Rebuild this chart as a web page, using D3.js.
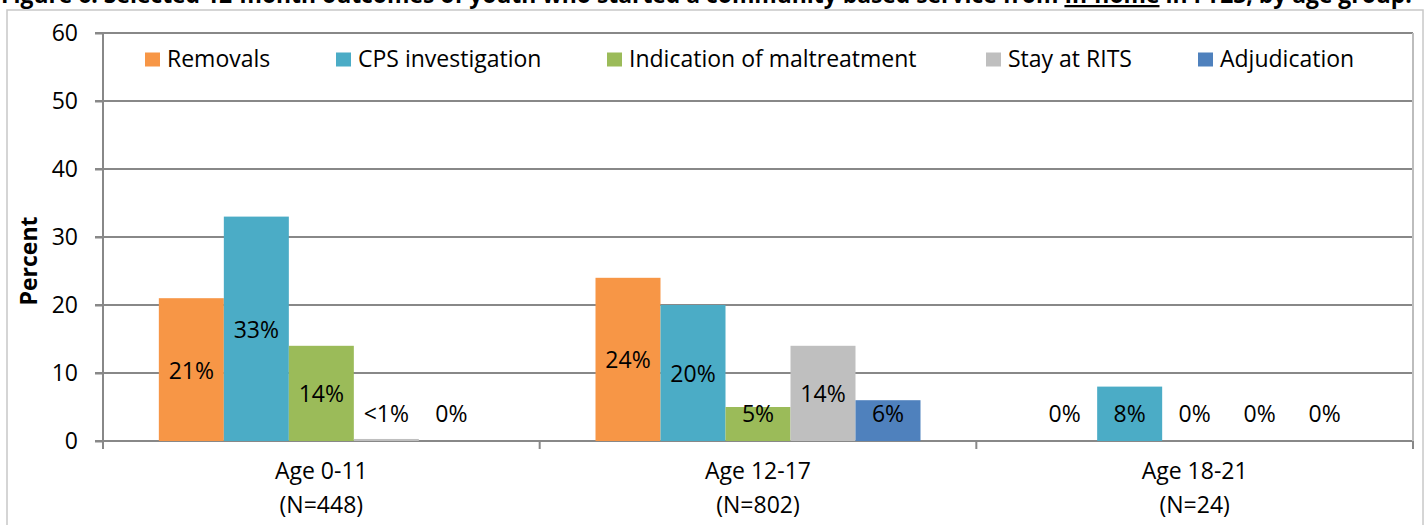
<!DOCTYPE html>
<html><head><meta charset="utf-8">
<script src="https://cdn.jsdelivr.net/npm/d3@7"></script>
<style>
body{margin:0;background:#fff;overflow:hidden}
svg{display:block}
text{font-family:"Open Sans",sans-serif;fill:#000}
</style>
</head><body>
<svg id="c" width="1427" height="525"></svg>
<script>
// ---- data ----
const categories = ["Age 0-11", "Age 12-17", "Age 18-21"];
const categoryN = ["(N=448)", "(N=802)", "(N=24)"];
const seriesNames = ["Removals", "CPS investigation", "Indication of maltreatment", "Stay at RITS", "Adjudication"];
const removals = [21, 24, 0];
const cpsInvestigation = [33, 20, 8];
const maltreatment = [14, 5, 0];
const stayAtRits = [0.3, 14, 0];
const adjudication = [0, 6, 0];
const seriesColors = ["#F79646", "#4BACC6", "#9BBB59", "#BFBFBF", "#4F81BD"];
const yTicks = [0, 10, 20, 30, 40, 50, 60];
const titlePre = "Figure 6. Selected 12-month outcomes of youth who started a community based service from ";
const titleUnder = "In-home";
const titlePost = " in FY23, by age group.";

// ---- layout ----
const L = 103, R = 1413, T = 33, B = 441;
const FS = 23;
const legendX = [145, 336, 607, 986, 1198];

const seriesValues = [removals, cpsInvestigation, maltreatment, stayAtRits, adjudication];
const svg = d3.select("#c");

// outer frame
svg.append("rect").attr("x", 7).attr("y", 10).attr("width", 1416).attr("height", 530)
  .attr("fill", "none").attr("stroke", "#C8C8C8").attr("stroke-width", 1.5);

// title (clipped at top, as in the source page)
const title = svg.append("text").attr("x", 1).attr("y", 3)
  .style("font-weight", "bold").style("font-size", "24px");
title.append("tspan").text(titlePre);
title.append("tspan").text(titleUnder).style("text-decoration", "underline");
title.append("tspan").text(titlePost);
const tw = title.node().getComputedTextLength();
title.style("font-size", (24 * 1411 / tw) + "px");

const y = d3.scaleLinear().domain([0, 60]).range([B, T]);
const x0 = d3.scaleBand().domain(categories).range([L, R]).paddingInner(0).paddingOuter(0);
const bw = x0.bandwidth();
const x1 = d3.scaleBand().domain(seriesNames).range([0, bw]).paddingInner(0).paddingOuter((bw / 65 - 5) / 2);

// gridlines
svg.append("g").selectAll("line").data(yTicks).join("line")
  .attr("x1", L - 8).attr("x2", R).attr("y1", d => y(d)).attr("y2", d => y(d))
  .attr("stroke", "#888").attr("stroke-width", 2);

// plot right border
svg.append("line").attr("x1", R).attr("x2", R).attr("y1", T).attr("y2", B + 8)
  .attr("stroke", "#BDBDBD").attr("stroke-width", 2);

// y axis
const yAxis = svg.append("g").attr("transform", `translate(${L},0)`)
  .call(d3.axisLeft(y).tickValues(yTicks).tickSize(8).tickPadding(17));
yAxis.select(".domain").attr("stroke", "#888").attr("stroke-width", 2)
  .attr("d", `M0,${T}V${B + 8}`);
yAxis.selectAll(".tick line").attr("stroke", "#888").attr("stroke-width", 2);
yAxis.selectAll(".tick text").style("font-size", FS + "px").style("font-family", "Open Sans").attr("fill", "#000");

// x category boundary ticks
const bounds = categories.map(c => x0(c)).concat([R]);
svg.append("g").selectAll("line").data(bounds).join("line")
  .attr("x1", d => d).attr("x2", d => d).attr("y1", B).attr("y2", B + 8)
  .attr("stroke", "#888").attr("stroke-width", 2);

// x labels
const xl = svg.append("g").selectAll("g").data(categories).join("g")
  .attr("transform", c => `translate(${x0(c) + bw / 2},0)`);
xl.append("text").attr("y", 470).attr("text-anchor", "middle").attr("dominant-baseline", "central")
  .style("font-size", FS + "px").text(c => c);
xl.append("text").attr("y", 504).attr("text-anchor", "middle").attr("dominant-baseline", "central")
  .style("font-size", FS + "px").text((c, i) => categoryN[i]);

// bars
const flat = [];
categories.forEach((c, ci) => seriesNames.forEach((s, si) => flat.push({c, s, si, v: seriesValues[si][ci]})));
svg.append("g").selectAll("rect").data(flat).join("rect")
  .attr("x", d => x0(d.c) + x1(d.s)).attr("width", x1.bandwidth())
  .attr("y", d => y(d.v)).attr("height", d => B - y(d.v))
  .attr("fill", d => seriesColors[d.si]);

// data labels
const fmt = v => (v > 0 && v < 1) ? "<1%" : Math.round(v) + "%";
svg.append("g").selectAll("text").data(flat).join("text")
  .attr("x", d => x0(d.c) + x1(d.s) + x1.bandwidth() / 2)
  .attr("y", d => Math.min((y(d.v) + B) / 2, 413))
  .attr("text-anchor", "middle").attr("dominant-baseline", "central")
  .style("font-size", FS + "px").text(d => fmt(d.v));

// y title
svg.append("text").attr("transform", "translate(28,261) rotate(-90)")
  .attr("text-anchor", "middle").attr("dominant-baseline", "central")
  .style("font-size", FS + "px").style("font-weight", "bold").text("Percent");

// legend
const lg = svg.append("g").selectAll("g").data(seriesNames).join("g")
  .attr("transform", (s, i) => `translate(${legendX[i]},0)`);
lg.append("rect").attr("x", 0).attr("y", 52.5).attr("width", 15).attr("height", 14)
  .attr("fill", (s, i) => seriesColors[i]);
lg.append("text").attr("x", 22).attr("y", 57.5).attr("dominant-baseline", "central")
  .style("font-size", FS + "px").text(s => s);
</script>
</body></html>
